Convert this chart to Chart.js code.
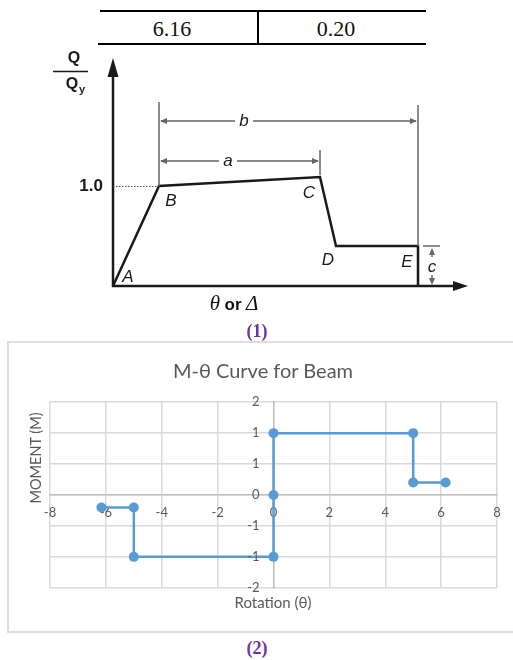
<!DOCTYPE html>
<html>
<head>
<meta charset="utf-8">
<script src="https://cdn.jsdelivr.net/npm/chart.js@4.4.0/dist/chart.umd.min.js"></script>
<style>
  html, body { margin: 0; padding: 0; background: #fff; }
  body { width: 513px; height: 660px; position: relative; overflow: hidden; font-family: 'Liberation Sans', Arial, sans-serif; }
  .abs { position: absolute; }
  .ctr { transform: translate(-50%, -50%); white-space: nowrap; line-height: 1; }
  .rule { background: #000; }
  .tbl { font-family: 'Liberation Serif', 'Times New Roman', serif; font-size: 22px; color: #111; }
  .fig { font-family: 'Liberation Serif', 'Times New Roman', serif; font-size: 18px; font-weight: bold; color: #7030a0; }
  .xl { font-family: Lato, 'Open Sans', sans-serif; color: #595959; }
  #box2 { left: 7px; top: 341px; width: 520px; height: 292px; border: 2px solid #dedede; box-sizing: border-box; }
</style>
</head>
<body>

<!-- table fragment above the figure -->
<div class="abs rule" style="left:100px;top:10px;width:326px;height:2px"></div>
<div class="abs rule" style="left:98px;top:43px;width:328px;height:2px"></div>
<div class="abs rule" style="left:257px;top:10px;width:2px;height:35px"></div>
<div class="abs ctr tbl" style="left:172px;top:29px">6.16</div>
<div class="abs ctr tbl" style="left:336px;top:29px">0.20</div>

<!-- (1) generalized force-deformation curve -->
<canvas id="backbone" class="abs" style="left:38px;top:46px;width:450px;height:260px" width="450" height="260"></canvas>
<div class="abs ctr" style="left:234px;top:303px;color:#111">
  <span style="font-family:'Liberation Serif',serif;font-style:italic;font-size:21px">θ</span>
  <b style="font-size:17px">or</b>
  <span style="font-family:'Liberation Serif',serif;font-style:italic;font-size:21px">Δ</span>
</div>
<div class="abs ctr fig" style="left:257px;top:331px">(1)</div>

<!-- (2) M-θ curve -->
<div id="box2" class="abs"></div>
<div class="abs ctr xl" style="left:263px;top:370px;font-size:20px">M-θ Curve for Beam</div>
<div class="abs ctr xl" style="left:36px;top:458px;font-size:14.5px;transform:translate(-50%,-50%) rotate(-90deg)">MOMENT (M)</div>
<div class="abs ctr xl" style="left:273px;top:602px;font-size:15px">Rotation (θ)</div>
<canvas id="mtheta" class="abs" style="left:30px;top:392px;width:487px;height:206px" width="487" height="206"></canvas>
<div class="abs ctr fig" style="left:257px;top:648px">(2)</div>

<script>
// ---- (1) backbone curve A-B-C-D-E (Q/Qy vs deformation) ----
const pointNames = ['A', 'B', 'C', 'D', 'E'];
const backboneX = [0, 0.46, 2.07, 2.23, 3.05, 3.05];
const backboneY = [0, 1.0, 1.09, 0.40, 0.40, 0];

// ---- (2) moment-rotation data ----
const thetaValues = [-6.16, -5, -5, 0, 0, 0, 5, 5, 6.16];
const momentValues = [-0.27, -0.27, -1.33, -1.33, 0, 1.33, 1.33, 0.27, 0.27];
const xTicks = [-8, -6, -4, -2, 0, 2, 4, 6, 8];
const xTickLabels = ['-8', '-6', '-4', '-2', '0', '2', '4', '6', '8'];
const yTicks = [-2, -1.333, -0.667, 0, 0.667, 1.333, 2];
const yTickLabels = ['-2', '-1', '-1', '0', '1', '1', '2'];

const INK = '#1a1a1a';
const DIM = '#666';

function seg(ctx, x1, y1, x2, y2) {
  ctx.beginPath(); ctx.moveTo(x1, y1); ctx.lineTo(x2, y2); ctx.stroke();
}
// filled arrowhead with its tip at (x, y), pointing along angle
function head(ctx, x, y, angle, len, half) {
  ctx.save();
  ctx.translate(x, y); ctx.rotate(angle);
  ctx.beginPath(); ctx.moveTo(0, 0); ctx.lineTo(-len, -half); ctx.lineTo(-len, half); ctx.closePath();
  ctx.fill();
  ctx.restore();
}

const backboneMarks = {
  id: 'backboneMarks',
  beforeDatasetsDraw(chart) {
    const { ctx, scales: { x, y } } = chart;
    const x0 = x.getPixelForValue(0), y0 = y.getPixelForValue(0);
    ctx.save();
    ctx.strokeStyle = INK; ctx.fillStyle = INK; ctx.lineWidth = 2.5;
    // axes with arrowheads
    seg(ctx, x0, y0 + 1, x0, 29);
    head(ctx, x0, 12, -Math.PI / 2, 19, 5.5);
    seg(ctx, x0 - 1, y0, 420, y0);
    head(ctx, 430, y0, 0, 15, 5);
    // dotted guide at Q/Qy = 1.0
    const bx = x.getPixelForValue(backboneX[1]), by = y.getPixelForValue(backboneY[1]);
    ctx.lineWidth = 1; ctx.strokeStyle = '#555'; ctx.setLineDash([1.5, 1.5]);
    seg(ctx, x0, by + 0.5, bx, by + 0.5);
    ctx.setLineDash([]);
    ctx.restore();
  },
  afterDatasetsDraw(chart) {
    const { ctx, scales: { x, y } } = chart;
    const px = i => x.getPixelForValue(backboneX[i]);
    const py = i => y.getPixelForValue(backboneY[i]);
    const x0 = x.getPixelForValue(0);
    ctx.save();

    // dimension lines a, b, c
    ctx.strokeStyle = DIM; ctx.fillStyle = DIM; ctx.lineWidth = 1.5;
    const bLine = py(1) - 65, aLine = py(1) - 25;
    seg(ctx, px(1), py(1), px(1), bLine - 19);
    seg(ctx, px(4), py(4), px(4), bLine - 16);
    seg(ctx, px(2), py(2) - 2, px(2), aLine - 11);
    // b
    seg(ctx, px(1) + 2, bLine, px(1) + 76, bLine);
    seg(ctx, px(1) + 94, bLine, px(4) - 2, bLine);
    head(ctx, px(1) + 1, bLine, Math.PI, 7, 3);
    head(ctx, px(4) - 1, bLine, 0, 7, 3);
    // a
    seg(ctx, px(1) + 2, aLine, px(1) + 60, aLine);
    seg(ctx, px(1) + 78, aLine, px(2) - 2, aLine);
    head(ctx, px(1) + 1, aLine, Math.PI, 7, 3);
    head(ctx, px(2) - 1, aLine, 0, 7, 3);
    // c
    const cx = px(4) + 14, yBase = y.getPixelForValue(0);
    seg(ctx, px(4) + 5, py(4), px(4) + 22, py(4));
    seg(ctx, cx, py(4) + 4, cx, py(4) + 11);
    seg(ctx, cx, yBase - 11, cx, yBase - 4);
    head(ctx, cx, py(4) + 2, -Math.PI / 2, 7, 3);
    head(ctx, cx, yBase - 1, Math.PI / 2, 7, 3);

    // letters
    ctx.fillStyle = INK;
    ctx.textAlign = 'center'; ctx.textBaseline = 'middle';
    ctx.font = 'italic 17px "Liberation Sans", Arial, sans-serif';
    const offs = [[15, -9], [12, 15], [-11, 16], [-8, 14], [-11, 16]];
    pointNames.forEach((n, i) => ctx.fillText(n, px(i) + offs[i][0], py(i) + offs[i][1]));
    ctx.fillText('b', px(1) + 85, bLine);
    ctx.fillText('a', px(1) + 69, aLine);
    ctx.fillText('c', cx, yBase - 19);

    // "1.0" and Q / Qy
    ctx.font = 'bold 17px "Liberation Sans", Arial, sans-serif';
    ctx.textAlign = 'right';
    ctx.fillText('1.0', x0 - 10, py(1));
    ctx.textAlign = 'center';
    ctx.font = 'bold 16px "Liberation Sans", Arial, sans-serif';
    ctx.fillText('Q', x0 - 39, 13);
    ctx.fillText('Q', x0 - 41, 39);
    ctx.font = 'bold 11px "Liberation Sans", Arial, sans-serif';
    ctx.fillText('y', x0 - 31, 44);
    ctx.strokeStyle = INK; ctx.lineWidth = 1.5;
    seg(ctx, x0 - 60, 25.5, x0 - 25, 25.5);
    ctx.restore();
  }
};

new Chart(document.getElementById('backbone'), {
  type: 'scatter',
  data: {
    datasets: [{
      data: backboneX.map((v, i) => ({ x: v, y: backboneY[i] })),
      showLine: true, borderColor: INK, borderWidth: 2.5, pointRadius: 0, tension: 0,
      borderJoinStyle: 'miter'
    }]
  },
  options: {
    responsive: false, animation: false, events: [],
    layout: { padding: 0 },
    plugins: { legend: { display: false }, tooltip: { enabled: false } },
    scales: {
      x: { type: 'linear', display: false, min: -0.75, max: 3.75 },
      y: { type: 'linear', display: false, min: -0.2, max: 2.4 }
    }
  },
  plugins: [backboneMarks]
});

// y labels sit left of the crossing axis (x = 0), like Excel
const yTickText = {
  id: 'yTickText',
  afterDraw(chart) {
    const { ctx, scales: { x, y } } = chart;
    const xAxis = x.getPixelForValue(0);
    ctx.save();
    ctx.font = '13px Lato, "Open Sans", sans-serif';
    ctx.fillStyle = '#595959'; ctx.textAlign = 'right'; ctx.textBaseline = 'middle';
    yTicks.forEach((v, i) => ctx.fillText(yTickLabels[i], xAxis - 14, y.getPixelForValue(v)));
    ctx.restore();
  }
};

const tickFont = { family: 'Lato, "Open Sans", sans-serif', size: 13 };
new Chart(document.getElementById('mtheta'), {
  type: 'scatter',
  data: {
    datasets: [{
      data: thetaValues.map((v, i) => ({ x: v, y: momentValues[i] })),
      showLine: true, tension: 0,
      borderColor: '#5b9bd5', backgroundColor: '#5b9bd5', borderWidth: 2.5,
      pointRadius: 5, pointBorderWidth: 0, pointBackgroundColor: '#5b9bd5'
    }]
  },
  options: {
    responsive: false, animation: false, events: [],
    layout: { padding: { left: 20, right: 20, top: 10, bottom: 10 } },
    plugins: { legend: { display: false }, tooltip: { enabled: false } },
    scales: {
      x: {
        type: 'linear', position: { y: 0 }, min: -8, max: 8,
        afterBuildTicks: s => { s.ticks = xTicks.map(v => ({ value: v })); },
        ticks: { callback: (v, i) => xTickLabels[i], color: '#595959', font: tickFont, padding: 10, maxRotation: 0, autoSkip: false },
        grid: { color: '#d9d9d9', lineWidth: 1.5, drawTicks: false },
        border: { color: '#bfbfbf', width: 1.5 }
      },
      y: {
        type: 'linear', position: { x: 0 }, min: -2, max: 2,
        afterBuildTicks: s => { s.ticks = yTicks.map(v => ({ value: v })); },
        ticks: { display: false },
        grid: { color: '#d9d9d9', lineWidth: 1.5, drawTicks: false },
        border: { color: '#bfbfbf', width: 1.5 }
      }
    }
  },
  plugins: [yTickText]
});
</script>
</body>
</html>
